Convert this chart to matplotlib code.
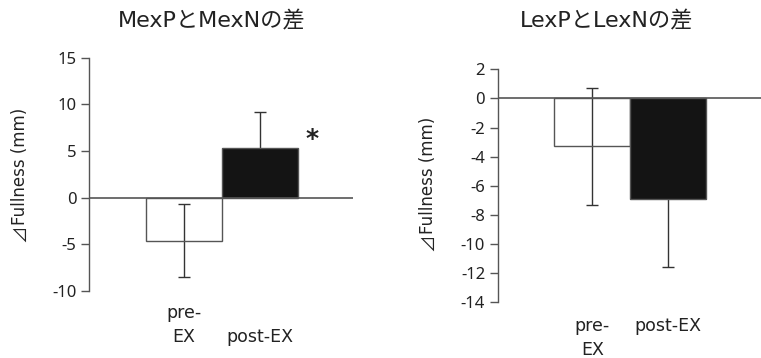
import matplotlib
matplotlib.use("Agg")
import matplotlib.pyplot as plt
from matplotlib.transforms import blended_transform_factory

plt.rcParams['font.family'] = ['DejaVu Sans', 'Noto Sans CJK JP']

categories = ["pre-\nEX", "post-EX"]
titles = ["MexPとMexNの差", "LexPとLexNの差"]
ylabel_sym = "⊿"
ylabel = "Fullness (mm)"

mex_values = [-4.6, 5.3]
mex_errors = [3.9, 3.9]
lex_values = [-3.3, -6.9]
lex_errors = [4.05, 4.65]

mex_ticks = [-10, -5, 0, 5, 10, 15]
lex_ticks = [-14, -12, -10, -8, -6, -4, -2, 0, 2]

W, H = 761, 358
fig = plt.figure(figsize=(W / 100, H / 100), dpi=100)

bar_colors = ["none", "#141414"]
edge = "#555555"
txt = "#222222"


def make_panel(rect, values, errors, ticks, title, title_xy, ylabel_x, ylabel_bottom,
               label_mode, label_y):
    ax = fig.add_axes(rect)
    x = list(range(len(values)))
    ax.errorbar(x, values, yerr=errors, fmt="none", ecolor="#333333",
                elinewidth=1.0, capsize=4.5, capthick=1.0, zorder=1)
    ax.bar(x, values, width=1.0, color=bar_colors, edgecolor=edge, linewidth=1.0, zorder=2)
    ax.axhline(0, color="#555555", lw=1.2, zorder=4)
    ax.set_ylim(ticks[0], ticks[-1])
    ax.set_xlim(-1.25, 2.23)
    ax.set_yticks(ticks)
    ax.set_yticklabels([str(t) for t in ticks], fontsize=12, color=txt,
                       family=['Noto Sans', 'DejaVu Sans'])
    ax.set_xticks([])
    for s in ["top", "right", "bottom"]:
        ax.spines[s].set_visible(False)
    ax.spines["left"].set_color(edge)
    ax.spines["left"].set_linewidth(1.0)
    ax.tick_params(axis="y", length=6, width=1.0, color=edge, pad=3)
    ax.patch.set_alpha(0)
    fig.text(title_xy[0] / W, 1 - title_xy[1] / H, title, ha="center", va="center",
             fontsize=16, color=txt)
    fig.text(ylabel_x / W, 1 - ylabel_bottom / H, ylabel_sym, ha="center", va="bottom",
             rotation=90, fontsize=12.5, color=txt, family=['Noto Sans CJK JP'])
    fig.text(ylabel_x / W, 1 - (ylabel_bottom - 17) / H, ylabel, ha="center", va="bottom",
             rotation=90, fontsize=12, color=txt)
    tr = blended_transform_factory(ax.transData, fig.transFigure)
    for xi, lab in zip(x, categories):
        ax.text(xi, 1 - label_y / H, lab, transform=tr, ha="center", va=label_mode,
                fontsize=12.5, color=txt, linespacing=1.45, multialignment="center")
    return ax


ax1 = make_panel([89 / W, 67 / H, (353 - 89) / W, (291 - 57.7) / H],
                 mex_values, mex_errors, mex_ticks, titles[0], (212, 21), 20, 242,
                 "bottom", 346)
ax1.text(1 + 0.69, mex_values[1] + 1.0, "*", ha="center", va="center",
         fontsize=18, fontweight="bold", color=txt)

ax2 = make_panel([497.7 / W, 55.7 / H, (761 - 497.7) / W, (302.3 - 69.3) / H],
                 lex_values, lex_errors, lex_ticks, titles[1], (607, 21), 428, 251,
                 "top", 317)

fig.savefig("out.png", dpi=100)
